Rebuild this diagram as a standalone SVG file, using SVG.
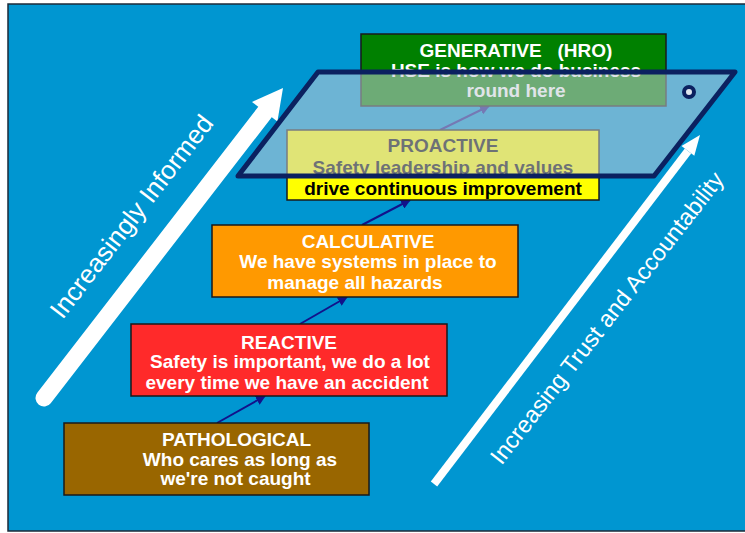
<svg xmlns="http://www.w3.org/2000/svg" width="745" height="533" viewBox="0 0 745 533">
<defs>
<style>
.bx{stroke:#1a1a1a;stroke-width:1.5}
.t{font-family:"Liberation Sans",Arial,sans-serif;font-weight:bold;font-size:19px;text-anchor:middle;fill:#fff}
.k{fill:#000}
.lab{font-family:"Liberation Sans",Arial,sans-serif;fill:#fff;text-anchor:middle;dominant-baseline:central}
.con{stroke:#12128a;stroke-width:2;fill:none;marker-end:url(#ah)}
</style>
<marker id="ah" viewBox="0 0 10 10" refX="9" refY="5" markerWidth="5" markerHeight="5" orient="auto" markerUnits="strokeWidth">
<path d="M0,0 L10,5 L0,10 z" fill="#12128a"/>
</marker>
</defs>
<rect x="0" y="0" width="745" height="533" fill="#ffffff"/>
<rect x="8" y="4" width="740" height="527" fill="#0096d1" stroke="#1c2a38" stroke-width="1.5"/>

<g id="arrow-informed">
<line x1="44" y1="398" x2="265" y2="112" stroke="#fff" stroke-width="17" stroke-linecap="round"/>
<polygon points="283,88 277.4,121.5 252,101.9" fill="#fff"/>
<text class="lab" x="131.5" y="216.5" font-size="26" transform="rotate(-52.3 131.5 216.5)">Increasingly Informed</text>
</g>

<g id="arrow-trust">
<line x1="434" y1="484" x2="688" y2="151" stroke="#fff" stroke-width="8"/>
<polygon points="700,135 694.3,155.7 681.5,146.1" fill="#fff"/>
<text class="lab" x="607" y="318" font-size="23.5" transform="rotate(-52 607 318)">Increasing Trust and Accountability</text>
</g>

<g id="connectors">
<line class="con" x1="217" y1="423" x2="265" y2="396"/>
<line class="con" x1="300" y1="324" x2="347" y2="297"/>
<line class="con" x1="362" y1="225" x2="410" y2="200"/>
<line class="con" x1="440" y1="130" x2="489" y2="106"/>
</g>

<g id="pathological">
<rect class="bx" x="64" y="423" width="305" height="72" fill="#996600"/>
<text class="t" x="236.5" y="445.5">PATHOLOGICAL</text>
<text class="t" x="240" y="465.5">Who cares as long as</text>
<text class="t" x="235.5" y="484.5">we're not caught</text>
</g>

<g id="reactive">
<rect class="bx" x="131" y="324" width="316" height="72" fill="#ff2a2a"/>
<text class="t" x="289" y="349">REACTIVE</text>
<text class="t" x="290" y="368">Safety is important, we do a lot</text>
<text class="t" x="287" y="388.5">every time we have an accident</text>
</g>

<g id="calculative">
<rect class="bx" x="212" y="225" width="306" height="72" fill="#ff9900"/>
<text class="t" x="368" y="247.5">CALCULATIVE</text>
<text class="t" x="368" y="267.5">We have systems in place to</text>
<text class="t" x="355" y="288.5">manage all hazards</text>
</g>

<g id="proactive">
<rect class="bx" x="287" y="130" width="312" height="70" fill="#ffff00"/>
<text class="t k" x="443" y="151.5">PROACTIVE</text>
<text class="t k" x="443" y="173.5">Safety leadership and values</text>
<text class="t k" x="443" y="194.5">drive continuous improvement</text>
</g>

<g id="generative">
<rect class="bx" x="361" y="34" width="305" height="72" fill="#008000"/>
<text class="t" x="516" y="56.5" style="white-space:pre">GENERATIVE   (HRO)</text>
<text class="t" x="516" y="76.5">HSE is how we do business</text>
<text class="t" x="516" y="96.5">round here</text>
</g>

<g id="plane">
<polygon points="318,72 735,72 654,176 238,176" fill="#c6cdd7" fill-opacity="0.55" stroke="#0b2160" stroke-width="5" stroke-linejoin="round"/>
<circle cx="689" cy="92" r="5" fill="#dfe6ee" stroke="#0b2160" stroke-width="4"/>
</g>
</svg>
